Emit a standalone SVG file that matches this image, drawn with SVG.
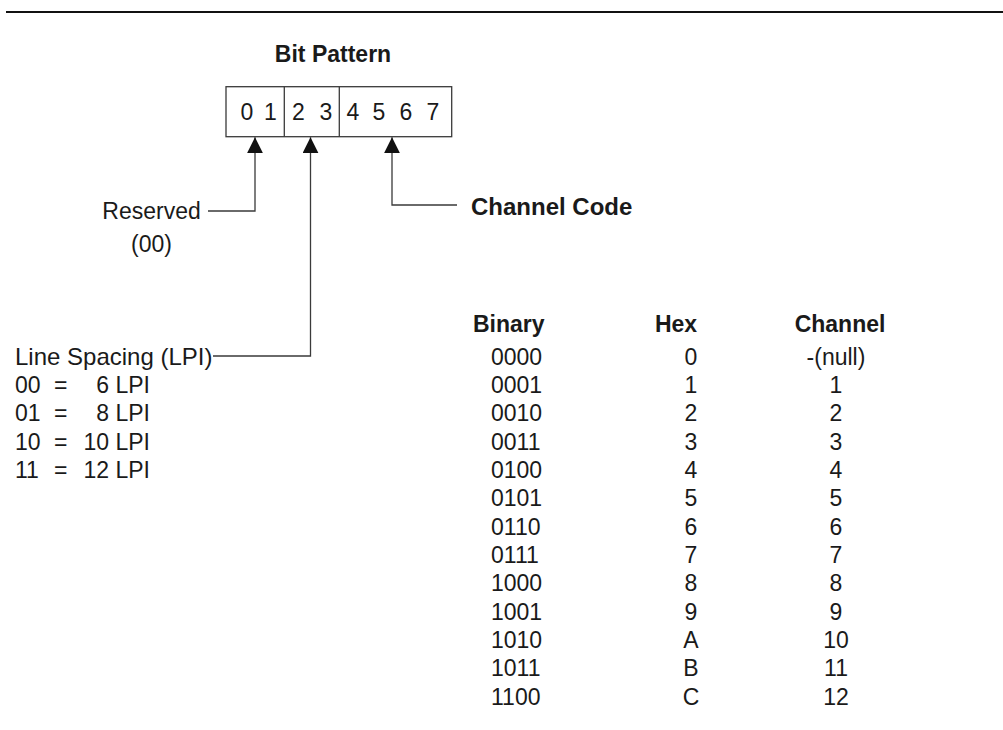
<svg xmlns="http://www.w3.org/2000/svg" width="1003" height="730" viewBox="0 0 1003 730">
  <defs>
    <style>
      text { font-family: "Liberation Sans", Arial, Helvetica, sans-serif; font-size: 23px; fill: #1a1a1a; }
      .b { font-weight: bold; }
      .m { text-anchor: middle; }
      .big { font-size: 24px; }
      .conn { fill: none; stroke: #3a3a3a; stroke-width: 1.3; }
      .box { fill: #fff; stroke: #3a3a3a; stroke-width: 1.3; }
    </style>
    <marker id="arrow" markerUnits="userSpaceOnUse" markerWidth="16" markerHeight="16" viewBox="0 0 16 16" refX="16" refY="8" orient="auto">
      <path d="M0,0 L16,8 L0,16 Z" fill="#111"/>
    </marker>
  </defs>
  <rect x="0" y="0" width="1003" height="730" fill="#fff"/>
  <line x1="6" y1="12" x2="1003" y2="12" stroke="#111" stroke-width="2.2"/>

  <g id="bit-pattern">
    <text class="b m" x="333" y="62">Bit Pattern</text>
    <rect class="box" x="226" y="86.7" width="225.7" height="50"/>
    <line class="box" x1="284.3" y1="86.7" x2="284.3" y2="136.7"/>
    <line class="box" x1="339.3" y1="86.7" x2="339.3" y2="136.7"/>
    <text class="m" x="247" y="120">0</text>
    <text class="m" x="270.5" y="120">1</text>
    <text class="m" x="298.5" y="120">2</text>
    <text class="m" x="326" y="120">3</text>
    <text class="m" x="353" y="120">4</text>
    <text class="m" x="379" y="120">5</text>
    <text class="m" x="406" y="120">6</text>
    <text class="m" x="433" y="120">7</text>
  </g>

  <g id="reserved">
    <text class="m" x="151.5" y="219">Reserved</text>
    <text class="m" x="151.5" y="252">(00)</text>
  </g>

  <g id="line-spacing">
    <text class="big" x="15" y="364.5">Line Spacing (LPI)</text>
    <text x="15" y="392.8">00</text><text x="54" y="392.8">=</text><text x="96.3" y="392.8">6 LPI</text>
    <text x="15" y="421.2">01</text><text x="54" y="421.2">=</text><text x="96.3" y="421.2">8 LPI</text>
    <text x="15" y="449.5">10</text><text x="54" y="449.5">=</text><text x="83.5" y="449.5">10 LPI</text>
    <text x="15" y="477.8">11</text><text x="54" y="477.8">=</text><text x="83.5" y="477.8">12 LPI</text>
  </g>

  <g id="channel-code">
    <text class="b big" x="471" y="214.5">Channel Code</text>
  </g>

  <g id="channel-table">
    <text class="b" x="473" y="332">Binary</text>
    <text class="b m" x="676" y="332">Hex</text>
    <text class="b m" x="840" y="332">Channel</text>
    <g id="col-binary">
      <text x="491" y="364.5">0000</text>
      <text x="491" y="392.8">0001</text>
      <text x="491" y="421.2">0010</text>
      <text x="491" y="449.5">0011</text>
      <text x="491" y="477.8">0100</text>
      <text x="491" y="506.2">0101</text>
      <text x="491" y="534.5">0110</text>
      <text x="491" y="562.8">0111</text>
      <text x="491" y="591.1">1000</text>
      <text x="491" y="619.5">1001</text>
      <text x="491" y="647.8">1010</text>
      <text x="491" y="676.1">1011</text>
      <text x="491" y="704.5">1100</text>
    </g>
    <g id="col-hex">
      <text class="m" x="691" y="364.5">0</text>
      <text class="m" x="691" y="392.8">1</text>
      <text class="m" x="691" y="421.2">2</text>
      <text class="m" x="691" y="449.5">3</text>
      <text class="m" x="691" y="477.8">4</text>
      <text class="m" x="691" y="506.2">5</text>
      <text class="m" x="691" y="534.5">6</text>
      <text class="m" x="691" y="562.8">7</text>
      <text class="m" x="691" y="591.1">8</text>
      <text class="m" x="691" y="619.5">9</text>
      <text class="m" x="691" y="647.8">A</text>
      <text class="m" x="691" y="676.1">B</text>
      <text class="m" x="691" y="704.5">C</text>
    </g>
    <g id="col-channel">
      <text class="m" x="836" y="364.5">-(null)</text>
      <text class="m" x="836" y="392.8">1</text>
      <text class="m" x="836" y="421.2">2</text>
      <text class="m" x="836" y="449.5">3</text>
      <text class="m" x="836" y="477.8">4</text>
      <text class="m" x="836" y="506.2">5</text>
      <text class="m" x="836" y="534.5">6</text>
      <text class="m" x="836" y="562.8">7</text>
      <text class="m" x="836" y="591.1">8</text>
      <text class="m" x="836" y="619.5">9</text>
      <text class="m" x="836" y="647.8">10</text>
      <text class="m" x="836" y="676.1">11</text>
      <text class="m" x="836" y="704.5">12</text>
    </g>
  </g>

  <g id="connectors">
    <polyline class="conn" points="208,211 255,211 255,137.3" marker-end="url(#arrow)"/>
    <polyline class="conn" points="213,356 310.5,356 310.5,137.3" marker-end="url(#arrow)"/>
    <polyline class="conn" points="457,205 392,205 392,137.3" marker-end="url(#arrow)"/>
  </g>
</svg>
